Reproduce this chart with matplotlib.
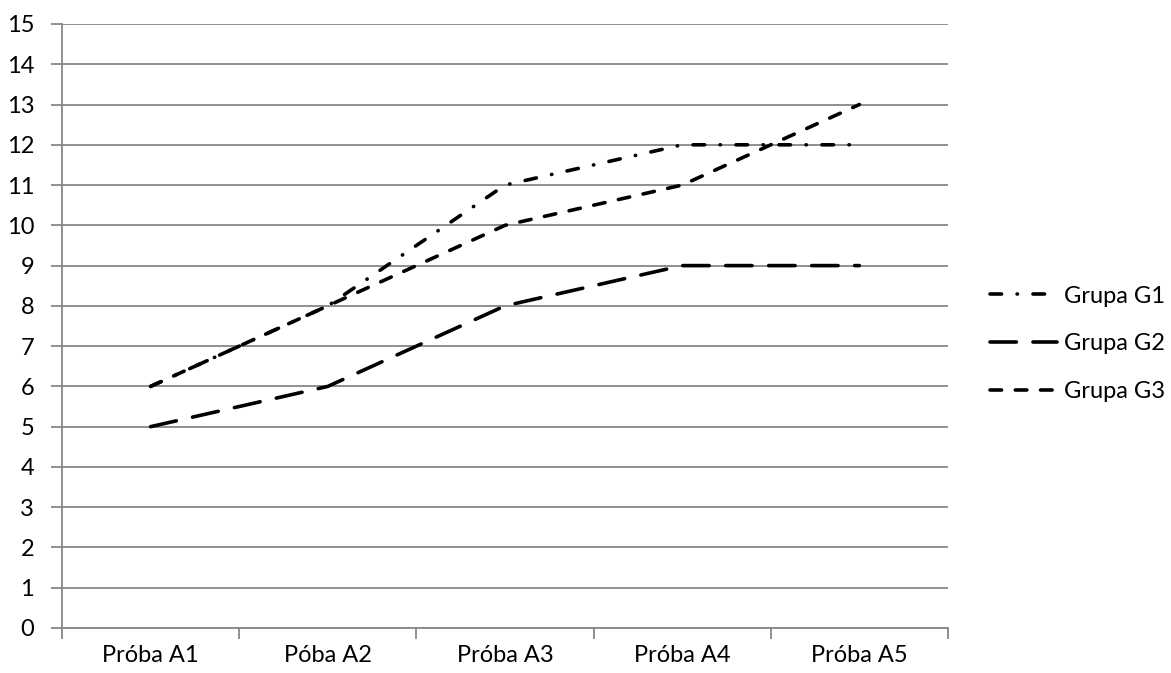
import matplotlib
matplotlib.use("Agg")
import matplotlib.pyplot as plt
from matplotlib.ticker import FixedLocator

categories = ["Próba A1", "Póba A2", "Próba A3", "Próba A4", "Próba A5"]
series_names = ["Grupa G1", "Grupa G2", "Grupa G3"]
g1 = [6, 8, 11, 12, 12]
g2 = [5, 6, 8, 9, 9]
g3 = [6, 8, 10, 11, 13]
y_ticks = list(range(0, 16))

plt.rcParams["font.family"] = ["Lato", "DejaVu Sans"]

fig = plt.figure(figsize=(11.71, 6.73), dpi=100)
ax = fig.add_axes([62 / 1171, 1 - 628 / 673, (948 - 62) / 1171, (628 - 24) / 673])

grid_color = "#878787"
x = list(range(len(categories)))
lw = 2.6
fs = 17

# dash patterns in units of line width (round caps add about one width to each dash)
styles = [
    (0, (3.2, 4.3, 0.1, 4.3)),
    (0, (7.3, 4.6)),
    (0, (3.2, 3.8)),
]
data = [g1, g2, g3]
handles = []
for name, vals, ls in zip(series_names, data, styles):
    (h,) = ax.plot(x, vals, color="black", lw=lw, linestyle=ls,
                   dash_capstyle="round", solid_capstyle="round", label=name, zorder=3)
    handles.append(h)

ax.set_xlim(-0.5, len(categories) - 0.5)
ax.set_ylim(0, 15)
ax.set_yticks(y_ticks)
ax.yaxis.grid(True, color=grid_color, lw=1.3)
ax.set_axisbelow(True)

ax.set_xticks(x)
ax.set_xticklabels(categories)
ax.xaxis.set_minor_locator(FixedLocator([i - 0.5 for i in range(len(categories) + 1)]))
ax.tick_params(axis="x", which="major", length=0, pad=12, labelsize=fs)
ax.tick_params(axis="x", which="minor", length=8, width=1.3, color=grid_color, direction="out")
ax.tick_params(axis="y", length=8, width=1.3, color=grid_color, labelsize=fs, pad=12)

for side in ("top", "right"):
    ax.spines[side].set_visible(False)
for side in ("left", "bottom"):
    ax.spines[side].set_color(grid_color)
    ax.spines[side].set_linewidth(1.3)

fig.legend(handles=handles, loc="center left", bbox_to_anchor=(990 / 1171, 1 - 344 / 673),
           frameon=False, fontsize=fs, handlelength=2.85, handletextpad=0.3,
           labelspacing=1.14, borderaxespad=0, borderpad=0)

fig.savefig("out.png", dpi=100)
